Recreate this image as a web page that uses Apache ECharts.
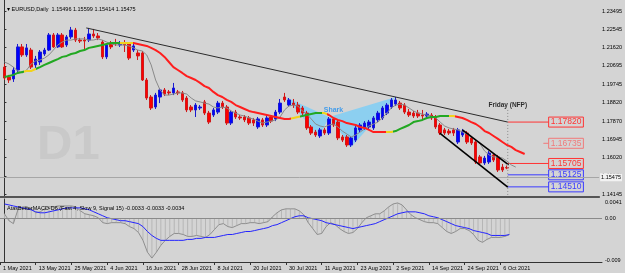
<!DOCTYPE html>
<html>
<head>
<meta charset="utf-8">
<script src="https://cdn.jsdelivr.net/npm/echarts@6/dist/echarts.min.js"></script>
<style>
  html, body { margin: 0; padding: 0; background: #d4d4d4; }
  #chart { width: 625px; height: 273px; }
</style>
</head>
<body>
<div id="chart"></div>
<script>
// EURUSD daily, bar 0 = 4 May 2021 ... bar 113 = 8 Oct 2021
const opens = [
  1.2063, 1.2012, 1.2002, 1.2048, 1.2166, 1.2125, 1.2150, 1.2074, 1.2089, 1.2130,
  1.2150, 1.2227, 1.2166, 1.2227, 1.2176, 1.2217, 1.2252, 1.2201, 1.2201, 1.2201,
  1.2232, 1.2222, 1.2191, 1.2115, 1.2186, 1.2186, 1.2176, 1.2186, 1.2181, 1.2150,
  1.2135, 1.2135, 1.1997, 1.1910, 1.1859, 1.1910, 1.1946, 1.1936, 1.1931, 1.1936,
  1.1931, 1.1905, 1.1859, 1.1844, 1.1854, 1.1885, 1.1828, 1.1818, 1.1833, 1.1879,
  1.1859, 1.1777, 1.1833, 1.1808, 1.1808, 1.1803, 1.1793, 1.1757, 1.1793, 1.1767,
  1.1808, 1.1798, 1.1833, 1.1910, 1.1869, 1.1879, 1.1869, 1.1854, 1.1828, 1.1757,
  1.1731, 1.1711, 1.1742, 1.1726, 1.1798, 1.1782, 1.1706, 1.1706, 1.1665, 1.1690,
  1.1742, 1.1752, 1.1757, 1.1752, 1.1793, 1.1803, 1.1828, 1.1859, 1.1874, 1.1879,
  1.1869, 1.1833, 1.1828, 1.1828, 1.1818, 1.1813, 1.1818, 1.1808, 1.1767, 1.1742,
  1.1736, 1.1742, 1.1680, 1.1716, 1.1726, 1.1701, 1.1680, 1.1604, 1.1573, 1.1578,
  1.1614, 1.1604, 1.1552, 1.15496
];
const highs = [
  1.2079, 1.2023, 1.2063, 1.2181, 1.2181, 1.2181, 1.2161, 1.2120, 1.2150, 1.2161,
  1.2237, 1.2237, 1.2237, 1.2237, 1.2227, 1.2268, 1.2263, 1.2212, 1.2217, 1.2263,
  1.2258, 1.2237, 1.2201, 1.2186, 1.2196, 1.2207, 1.2196, 1.2201, 1.2191, 1.2181,
  1.2150, 1.2145, 1.2007, 1.1920, 1.1931, 1.1956, 1.1956, 1.1946, 1.1982, 1.1946,
  1.1941, 1.1915, 1.1869, 1.1879, 1.1869, 1.1895, 1.1839, 1.1854, 1.1890, 1.1890,
  1.1869, 1.1844, 1.1844, 1.1818, 1.1818, 1.1813, 1.1803, 1.1808, 1.1803, 1.1813,
  1.1818, 1.1844, 1.1900, 1.1931, 1.1905, 1.1900, 1.1885, 1.1864, 1.1839, 1.1767,
  1.1742, 1.1752, 1.1752, 1.1808, 1.1808, 1.1793, 1.1716, 1.1716, 1.1711, 1.1762,
  1.1777, 1.1787, 1.1793, 1.1813, 1.1839, 1.1864, 1.1879, 1.1905, 1.1910, 1.1890,
  1.1879, 1.1849, 1.1839, 1.1844, 1.1844, 1.1833, 1.1828, 1.1818, 1.1777, 1.1752,
  1.1747, 1.1752, 1.1752, 1.1747, 1.1736, 1.1711, 1.1690, 1.1614, 1.1609, 1.1634,
  1.1624, 1.1614, 1.1568, 1.15599
];
const lows = [
  1.1997, 1.1982, 1.1987, 1.2038, 1.2115, 1.2115, 1.2053, 1.2058, 1.2074, 1.2120,
  1.2145, 1.2161, 1.2161, 1.2161, 1.2166, 1.2207, 1.2191, 1.2186, 1.2150, 1.2191,
  1.2212, 1.2201, 1.2104, 1.2104, 1.2155, 1.2171, 1.2166, 1.2140, 1.2099, 1.2140,
  1.2099, 1.1992, 1.1895, 1.1844, 1.1849, 1.1879, 1.1915, 1.1920, 1.1920, 1.1920,
  1.1885, 1.1833, 1.1833, 1.1808, 1.1844, 1.1818, 1.1772, 1.1808, 1.1823, 1.1849,
  1.1767, 1.1767, 1.1798, 1.1793, 1.1782, 1.1767, 1.1762, 1.1747, 1.1757, 1.1757,
  1.1777, 1.1787, 1.1823, 1.1885, 1.1859, 1.1854, 1.1823, 1.1818, 1.1742, 1.1716,
  1.1706, 1.1701, 1.1716, 1.1716, 1.1757, 1.1690, 1.1680, 1.1655, 1.1655, 1.1680,
  1.1731, 1.1742, 1.1747, 1.1742, 1.1782, 1.1793, 1.1818, 1.1849, 1.1864, 1.1844,
  1.1823, 1.1808, 1.1803, 1.1803, 1.1793, 1.1803, 1.1793, 1.1747, 1.1716, 1.1716,
  1.1716, 1.1711, 1.1670, 1.1706, 1.1670, 1.1665, 1.1568, 1.1563, 1.1563, 1.1568,
  1.1578, 1.1527, 1.1527, 1.15414
];
const closes = [
  1.2007, 1.1997, 1.2048, 1.2166, 1.2125, 1.2161, 1.2063, 1.2104, 1.2140, 1.2150,
  1.2227, 1.2166, 1.2227, 1.2166, 1.2217, 1.2252, 1.2201, 1.2196, 1.2196, 1.2232,
  1.2222, 1.2212, 1.2115, 1.2176, 1.2166, 1.2181, 1.2186, 1.2176, 1.2109, 1.2171,
  1.2120, 1.1997, 1.1905, 1.1854, 1.1920, 1.1946, 1.1925, 1.1931, 1.1956, 1.1931,
  1.1895, 1.1844, 1.1844, 1.1869, 1.1859, 1.1828, 1.1782, 1.1844, 1.1879, 1.1859,
  1.1777, 1.1833, 1.1808, 1.1803, 1.1793, 1.1777, 1.1777, 1.1798, 1.1767, 1.1803,
  1.1787, 1.1833, 1.1879, 1.1895, 1.1895, 1.1869, 1.1833, 1.1828, 1.1752, 1.1726,
  1.1716, 1.1742, 1.1726, 1.1798, 1.1767, 1.1701, 1.1690, 1.1665, 1.1701, 1.1752,
  1.1767, 1.1777, 1.1782, 1.1803, 1.1828, 1.1854, 1.1869, 1.1895, 1.1895, 1.1854,
  1.1833, 1.1818, 1.1813, 1.1813, 1.1813, 1.1823, 1.1803, 1.1757, 1.1726, 1.1726,
  1.1726, 1.1726, 1.1742, 1.1736, 1.1680, 1.1675, 1.1578, 1.1573, 1.1598, 1.1624,
  1.1588, 1.1537, 1.1537, 1.15475
];

// fast MA (grey) and slope coloured slow MA, both drawn a few bars forward
const fastMa = [
  1.2089, 1.2079, 1.2063, 1.2043, 1.2033, 1.2048, 1.2079, 1.2094, 1.2099, 1.2109,
  1.2125, 1.2150, 1.2176, 1.2191, 1.2201, 1.2201, 1.2207, 1.2207, 1.2207, 1.2201,
  1.2201, 1.2207, 1.2201, 1.2191, 1.2181, 1.2176, 1.2176, 1.2176, 1.2171, 1.2161,
  1.2150, 1.2145, 1.2125, 1.2074, 1.1997, 1.1946, 1.1920, 1.1920, 1.1925, 1.1931,
  1.1931, 1.1925, 1.1905, 1.1890, 1.1885, 1.1879, 1.1874, 1.1859, 1.1854, 1.1859,
  1.1854, 1.1839, 1.1828, 1.1818, 1.1813, 1.1803, 1.1798, 1.1787, 1.1777, 1.1782,
  1.1787, 1.1793, 1.1808, 1.1844, 1.1864, 1.1869, 1.1864, 1.1839, 1.1823, 1.1798,
  1.1772, 1.1762, 1.1757, 1.1767, 1.1772, 1.1757, 1.1736, 1.1721, 1.1706, 1.1716,
  1.1731, 1.1747, 1.1762, 1.1772, 1.1782, 1.1803, 1.1828, 1.1854, 1.1869, 1.1874,
  1.1869, 1.1854, 1.1839, 1.1828, 1.1823, 1.1818, 1.1813, 1.1803, 1.1782, 1.1762,
  1.1752, 1.1747, 1.1742, 1.1731, 1.1721, 1.1706, 1.1690, 1.1670, 1.1634, 1.1614,
  1.1604, 1.1604, 1.1598, 1.1583, 1.1563, 1.1552
];
const slowMa = [
  1.2012, 1.2017, 1.2023, 1.2033, 1.2038, 1.2043, 1.2043, 1.2053, 1.2063, 1.2074,
  1.2084, 1.2094, 1.2104, 1.2115, 1.2120, 1.2130, 1.2135, 1.2145, 1.2150, 1.2161,
  1.2166, 1.2171, 1.2176, 1.2181, 1.2186, 1.2186, 1.2186, 1.2186, 1.2186, 1.2186,
  1.2181, 1.2176, 1.2171, 1.2161, 1.2150, 1.2135, 1.2115, 1.2089, 1.2063, 1.2048,
  1.2033, 1.2017, 1.2007, 1.1997, 1.1982, 1.1966, 1.1956, 1.1936, 1.1920, 1.1910,
  1.1895, 1.1885, 1.1869, 1.1859, 1.1849, 1.1839, 1.1833, 1.1828, 1.1823, 1.1818,
  1.1813, 1.1808, 1.1803, 1.1798, 1.1798, 1.1803, 1.1808, 1.1813, 1.1818, 1.1823,
  1.1828, 1.1828, 1.1828, 1.1818, 1.1803, 1.1793, 1.1787, 1.1777, 1.1772, 1.1767,
  1.1757, 1.1752, 1.1742, 1.1731, 1.1731, 1.1731, 1.1731, 1.1731, 1.1736, 1.1747,
  1.1757, 1.1767, 1.1782, 1.1787, 1.1793, 1.1803, 1.1808, 1.1808, 1.1813, 1.1813,
  1.1813, 1.1813, 1.1808, 1.1803, 1.1793, 1.1782, 1.1772, 1.1757, 1.1736, 1.1726,
  1.1711, 1.1696, 1.1680, 1.1665, 1.1655, 1.1639, 1.1629, 1.1619
];
// bar ranges where the slow MA is rising / flat / falling
const slowMaTrend = [
  [-1, 4.5, 'up'], [4.5, 7, 'flat'], [7, 26, 'up'], [26, 29, 'flat'], [29, 64.5, 'down'],
  [64.5, 66.5, 'flat'], [66.5, 71.4, 'up'], [71.4, 72.6, 'flat'], [72.6, 85.8, 'down'],
  [85.8, 87.5, 'flat'], [87.5, 100, 'up'], [100, 101.3, 'flat'], [101.3, 140, 'down']
];

const macdMain = [
  0.00102, -0.00041, -0.00102, 0.00184, 0.00246, 0.00246, 0.00205, 0.00123, 0.00143, 0.00205,
  0.00246, 0.00246, 0.00266, 0.00266, 0.00266, 0.00266, 0.00246, 0.00164, 0.00102, 0.00082,
  0.00061, 0.00020, -0.00082, -0.00102, -0.00082, -0.00082, -0.00082, -0.00102, -0.00164, -0.00205,
  -0.00287, -0.00450, -0.00696, -0.00819, -0.00696, -0.00553, -0.00450, -0.00368, -0.00307, -0.00307,
  -0.00328, -0.00368, -0.00368, -0.00348, -0.00368, -0.00389, -0.00328, -0.00225, -0.00123, -0.00102,
  -0.00164, -0.00184, -0.00143, -0.00102, -0.00102, -0.00082, -0.00082, -0.00102, -0.00082, -0.00061,
  0.00041, 0.00123, 0.00184, 0.00205, 0.00205, 0.00205, 0.00164, 0.00082, -0.00082, -0.00205,
  -0.00328, -0.00307, -0.00164, -0.00082, -0.00123, -0.00205, -0.00266, -0.00307, -0.00287, -0.00205,
  -0.00082, 0.00020, 0.00061, 0.00102, 0.00102, 0.00164, 0.00246, 0.00307, 0.00328, 0.00287,
  0.00184, 0.00082, 0.00020, -0.00020, -0.00061, -0.00082, -0.00082, -0.00102, -0.00184, -0.00266,
  -0.00307, -0.00266, -0.00205, -0.00205, -0.00246, -0.00328, -0.00450, -0.00491, -0.00430, -0.00389,
  -0.00389, -0.00389, -0.00368, -0.00330
];
const macdSignal = [
  0.00307, 0.00287, 0.00266, 0.00246, 0.00225, 0.00205, 0.00184, 0.00143, 0.00123, 0.00123,
  0.00143, 0.00164, 0.00184, 0.00205, 0.00225, 0.00225, 0.00225, 0.00225, 0.00205, 0.00184,
  0.00143, 0.00102, 0.00061, 0.00020, 0, -0.00020, -0.00041, -0.00041, -0.00061, -0.00082,
  -0.00102, -0.00164, -0.00266, -0.00348, -0.00409, -0.00450, -0.00450, -0.00450, -0.00450, -0.00450,
  -0.00450, -0.00430, -0.00430, -0.00409, -0.00409, -0.00389, -0.00389, -0.00389, -0.00368, -0.00348,
  -0.00328, -0.00328, -0.00307, -0.00287, -0.00266, -0.00266, -0.00246, -0.00225, -0.00205, -0.00184,
  -0.00143, -0.00123, -0.00082, -0.00041, 0, 0.00041, 0.00061, 0.00061, 0.00020, 0,
  -0.00020, -0.00041, -0.00082, -0.00102, -0.00123, -0.00143, -0.00164, -0.00184, -0.00205, -0.00184,
  -0.00164, -0.00143, -0.00123, -0.00102, -0.00061, -0.00020, 0.00020, 0.00061, 0.00102, 0.00123,
  0.00143, 0.00143, 0.00143, 0.00123, 0.00102, 0.00061, 0.00041, 0.00020, -0.00020, -0.00061,
  -0.00102, -0.00143, -0.00164, -0.00184, -0.00205, -0.00246, -0.00266, -0.00287, -0.00307, -0.00348,
  -0.00348, -0.00348, -0.00348, -0.00330
];

const dateTickBars = [-1, 7, 15, 23, 31, 39, 47, 55, 63, 71, 79, 87, 95, 103, 111];
const dateTickLabels = ['1 May 2021', '13 May 2021', '25 May 2021', '4 Jun 2021', '16 Jun 2021',
  '28 Jun 2021', '8 Jul 2021', '20 Jul 2021', '30 Jul 2021', '11 Aug 2021', '23 Aug 2021',
  '2 Sep 2021', '14 Sep 2021', '24 Sep 2021', '6 Oct 2021'];
const priceTicks = [1.23495, 1.22545, 1.21620, 1.20695, 1.19745, 1.18820, 1.17870,
  1.16945, 1.16020, 1.15070, 1.14145];
const macdTickPos = [0.0033, 0, -0.0087];
const macdTickLabels = ['0.0041', '0.00', '-0.009'];

const bidPrice = 1.15475;
const levels = [1.17820, 1.16735, 1.15705, 1.15125, 1.14510];
const levelFrom = [113.2, 121.2, 113.2, 113.2, 113.2];
const levelKind = ['res', 'res2', 'res', 'sup', 'sup'];

const trendLine = [[18.4, 1.2263], [113.2, 1.1782]];
const channelUpper = [[103, 1.1742], [113.4, 1.1563]];
const channelLower = [[97.9, 1.1726], [113.2, 1.1450]];
const sharkTriangles = [
  [[63.2, 1.1910], [70.8, 1.1706], [73, 1.1808]],
  [[73, 1.1808], [78, 1.1655], [88, 1.1910]]
];
const sharkLabelAt = [74, 1.1841];
const fridayBar = 113.2;
const fridayLabelAt = [113.2, 1.1869];
const fridayLineTop = 1.1844;

const xMin = -1, xMax = 133.75;
const priceMin = 1.13992, priceMax = 1.24057;
const macdMin = -0.009, macdMax = 0.0041;

const FONT = 'Liberation Sans';
const trendColors = { up: '#22a822', flat: '#f2d21b', down: '#ff1e1e' };
const levelColors = { res: '#ff3434', res2: '#f07a7a', sup: '#3a3aff' };

const chart = echarts.init(document.getElementById('chart'), null, { renderer: 'canvas' });

const series = [];

series.push({
  type: 'custom', name: 'shark', xAxisIndex: 0, yAxisIndex: 0, z: 1,
  data: sharkTriangles.map(t => [].concat(...t)),
  renderItem: function (params, api) {
    const pts = [0, 1, 2].map(k => api.coord([api.value(k * 2), api.value(k * 2 + 1)]));
    return { type: 'polygon', shape: { points: pts }, style: { fill: '#8ccff0' } };
  }
});

levels.forEach(function (v, k) {
  const col = levelColors[levelKind[k]];
  series.push({
    type: 'line', xAxisIndex: 0, yAxisIndex: 0, z: 3, symbol: 'none', silent: true,
    data: [[levelFrom[k], v], [122.4, v]],
    lineStyle: { color: col, width: 1 },
    endLabel: {
      show: true, distance: 0, formatter: v.toFixed(5),
      color: col, fontSize: 8.5, fontFamily: FONT,
      borderColor: col, borderWidth: 1, padding: [1, 2, 0, 2]
    }
  });
});

series.push({
  type: 'candlestick', name: 'EURUSD', xAxisIndex: 0, yAxisIndex: 0, z: 4,
  barWidth: 3,
  data: opens.map((o, i) => [i, o, closes[i], lows[i], highs[i]]),
  encode: { x: 0, y: [1, 2, 3, 4] },
  itemStyle: { color: '#0000ff', color0: '#ff0000', borderColor: '#1a1ad0', borderColor0: '#d01a1a', borderWidth: 1 },
  markLine: {
    silent: true, symbol: ['none', 'none'], animation: false,
    lineStyle: { color: '#a6a6a6', type: 'solid', width: 1 },
    label: {
      show: true, position: 'end', distance: 1, formatter: bidPrice.toFixed(5),
      fontSize: 5.5, fontFamily: FONT, color: '#000', backgroundColor: '#f2f2f2', padding: [1, 1]
    },
    data: [{ yAxis: bidPrice }]
  }
});

series.push({
  type: 'line', name: 'fast', xAxisIndex: 0, yAxisIndex: 0, z: 5, symbol: 'none', silent: true,
  data: fastMa.map((v, i) => [i, v]),
  lineStyle: { color: '#8a8a8a', width: 1 }
});
const slowIndex = series.length;
series.push({
  type: 'line', name: 'slow', xAxisIndex: 0, yAxisIndex: 0, z: 5, symbol: 'none', silent: true,
  data: slowMa.map((v, i) => [i, v]),
  lineStyle: { width: 2 }
});

[[trendLine, '#2b2b2b', 1], [channelUpper, '#000', 1.6], [channelLower, '#000', 1.6]].forEach(function (l) {
  series.push({
    type: 'line', xAxisIndex: 0, yAxisIndex: 0, z: 6, symbol: 'none', silent: true,
    data: l[0], lineStyle: { color: l[1], width: l[2] }
  });
});

series.push({
  type: 'line', xAxisIndex: 0, yAxisIndex: 0, z: 6, symbol: 'none', silent: true,
  data: [[fridayBar, fridayLineTop], [fridayBar, priceMin]],
  lineStyle: { color: '#8c8c8c', width: 1, type: [1, 2] }
});

series.push({
  type: 'scatter', xAxisIndex: 0, yAxisIndex: 0, z: 7, symbolSize: 0, silent: true,
  data: [{ value: fridayLabelAt, label: { formatter: 'Friday (NFP)', color: '#000', fontSize: 6.5 } },
         { value: sharkLabelAt, label: { formatter: 'Shark', color: '#1e8ff0', fontSize: 7 } }],
  label: { show: true, position: 'inside', fontWeight: 'bold', fontFamily: FONT }
});

// MACD window
series.push({
  type: 'bar', xAxisIndex: 1, yAxisIndex: 1, barWidth: 1, silent: true,
  data: macdMain.map((v, i) => [i, v]),
  itemStyle: { color: '#b6b6b6' },
  markLine: {
    silent: true, symbol: ['none', 'none'], animation: false, label: { show: false },
    lineStyle: { color: '#8a8a8a', type: 'solid', width: 1 },
    data: [{ yAxis: 0 }]
  }
});
series.push({
  type: 'line', xAxisIndex: 1, yAxisIndex: 1, symbol: 'none', silent: true,
  data: macdMain.map((v, i) => [i, v]), lineStyle: { color: '#8e8e8e', width: 1 }
});
series.push({
  type: 'line', xAxisIndex: 1, yAxisIndex: 1, symbol: 'none', silent: true,
  data: macdSignal.map((v, i) => [i, v]), lineStyle: { color: '#2424ff', width: 1 }
});

const option = {
  animation: false,
  backgroundColor: '#d4d4d4',
  textStyle: { fontFamily: FONT },
  title: [
    { text: '\u25BE EURUSD,Daily  1.15496 1.15599 1.15414 1.15475', left: 2, top: 1,
      textStyle: { fontSize: 5.5, fontWeight: 'normal', color: '#000', fontFamily: FONT } },
    { text: 'AtasBetterMACD-D6 (Fast 4, Slow 9, Signal 15) -0.0033 -0.0033 -0.0034', left: 2, top: 200,
      textStyle: { fontSize: 5.5, fontWeight: 'normal', color: '#000', fontFamily: FONT } }
  ],
  graphic: [
    { type: 'text', left: 37, top: 121, silent: true, z: 0,
      style: { text: 'D1', font: 'bold 49px "Liberation Sans"', fill: '#c9c9c9' } }
  ],
  visualMap: [{
    show: false, type: 'piecewise', seriesIndex: slowIndex, dimension: 0,
    pieces: slowMaTrend.map(t => ({ gte: t[0], lt: t[1], color: trendColors[t[2]] }))
  }],
  grid: [
    { left: -3, top: 0, width: 605, height: 197 },
    { left: -3, top: 199, width: 605, height: 63 }
  ],
  xAxis: [
    { type: 'value', gridIndex: 0, min: xMin, max: xMax,
      axisLine: { show: true, onZero: false, lineStyle: { color: '#555', width: 2 } },
      axisTick: { show: false }, axisLabel: { show: false }, splitLine: { show: false } },
    { type: 'value', gridIndex: 1, min: xMin, max: xMax,
      axisLine: { show: true, onZero: false, lineStyle: { color: '#333', width: 1 } },
      axisTick: { show: true, length: 3, customValues: dateTickBars, lineStyle: { color: '#333' } },
      axisLabel: {
        customValues: dateTickBars, align: 'left', margin: 3, padding: [0, 0, 0, 3],
        fontSize: 5.5, color: '#000', fontFamily: FONT,
        formatter: v => dateTickLabels[dateTickBars.indexOf(Math.round(v))] || ''
      },
      splitLine: { show: false } }
  ],
  yAxis: [
    { type: 'value', gridIndex: 0, position: 'right', min: priceMin, max: priceMax, scale: true,
      axisLine: { show: true, lineStyle: { color: '#333', width: 1 } },
      axisTick: { show: true, length: 2, customValues: priceTicks, lineStyle: { color: '#333' } },
      axisLabel: { customValues: priceTicks, margin: 3, fontSize: 5.5, color: '#000', fontFamily: FONT,
        formatter: v => v.toFixed(5) },
      splitLine: { show: false } },
    { type: 'value', gridIndex: 1, position: 'right', min: macdMin, max: macdMax,
      axisLine: { show: true, lineStyle: { color: '#333', width: 1 } },
      axisTick: { show: false },
      axisLabel: { customValues: macdTickPos, margin: 3, fontSize: 5.5, color: '#000', fontFamily: FONT,
        formatter: v => macdTickLabels[macdTickPos.indexOf(v)] || '' },
      splitLine: { show: false } }
  ],
  series: series
};

chart.setOption(option);
</script>
</body>
</html>
